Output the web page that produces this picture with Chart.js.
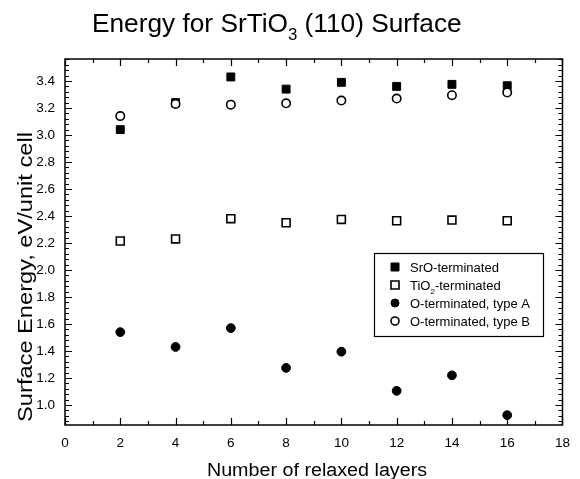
<!DOCTYPE html>
<html>
<head>
<meta charset="utf-8">
<script src="https://cdn.jsdelivr.net/npm/chart.js@4/dist/chart.umd.min.js"></script>
<style>
  html, body { margin: 0; padding: 0; background: #fff; }
  #wrap { width: 580px; height: 479px; }
</style>
</head>
<body>
<div id="wrap"><canvas id="c"></canvas></div>
<script>
// Surface energy (eV per unit cell) versus the number of relaxed layers
const layers = [2, 4, 6, 8, 10, 12, 14, 16];
const srOTerminated  = [3.04, 3.24, 3.43, 3.34, 3.39, 3.36, 3.375, 3.365];
const tiO2Terminated = [2.215, 2.23, 2.38, 2.35, 2.375, 2.365, 2.37, 2.365];
const oTypeA         = [1.54, 1.43, 1.57, 1.275, 1.395, 1.105, 1.22, 0.925];
const oTypeB         = [3.14, 3.23, 3.225, 3.235, 3.255, 3.27, 3.295, 3.315];

const xTickValues = [0, 2, 4, 6, 8, 10, 12, 14, 16, 18];
const yTickValues = [1.0, 1.2, 1.4, 1.6, 1.8, 2.0, 2.2, 2.4, 2.6, 2.8, 3.0, 3.2, 3.4];

// "_n" marks a subscript
const seriesLabels = ['SrO-terminated', 'TiO_2-terminated', 'O-terminated, type A', 'O-terminated, type B'];
const chartTitle = 'Energy for SrTiO_3 (110) Surface';
const xTitle = 'Number of relaxed layers';
const yTitle = 'Surface Energy, eV/unit cell';

const FONT = '"Liberation Sans", Arial, Helvetica, sans-serif';

function toPoints(values) {
  return layers.map((l, i) => ({ x: l, y: values[i] }));
}

// Draws text where "_digits" become a lowered, smaller subscript
function drawRich(ctx, text, x, y, size) {
  const parts = text.split(/(_\d+)/).filter(s => s.length);
  let cx = x;
  for (const p of parts) {
    if (p[0] === '_') {
      const s = Math.round(size * 0.62);
      ctx.font = s + 'px ' + FONT;
      ctx.fillText(p.slice(1), cx, y + size * 0.33);
      cx += ctx.measureText(p.slice(1)).width;
    } else {
      ctx.font = size + 'px ' + FONT;
      ctx.fillText(p, cx, y);
      cx += ctx.measureText(p).width;
    }
  }
  return cx - x;
}

// Text drawn slightly widened along its baseline, centred on (x, y)
function drawWide(ctx, text, x, y, size, stretch, angle) {
  ctx.save();
  ctx.translate(x, y);
  ctx.rotate(angle || 0);
  ctx.scale(stretch, 1);
  ctx.font = size + 'px ' + FONT;
  ctx.textAlign = 'center';
  ctx.fillText(text, 0, 0);
  ctx.restore();
}

const datasets = [
  { label: seriesLabels[0], data: toPoints(srOTerminated), pointStyle: 'rect',
    pointRadius: 5.6, backgroundColor: '#000', borderColor: '#000', borderWidth: 1, order: 3 },
  { label: seriesLabels[1], data: toPoints(tiO2Terminated), pointStyle: 'rect',
    pointRadius: 5.6, backgroundColor: '#fff', borderColor: '#000', borderWidth: 1.6, order: 2 },
  { label: seriesLabels[2], data: toPoints(oTypeA), pointStyle: 'circle',
    pointRadius: 4.4, backgroundColor: '#000', borderColor: '#000', borderWidth: 1, order: 1 },
  { label: seriesLabels[3], data: toPoints(oTypeB), pointStyle: 'circle',
    pointRadius: 4.2, backgroundColor: '#fff', borderColor: '#000', borderWidth: 1.6, order: 0 }
];

// Frame with inward major/minor ticks on all four sides, titles and legend
const framePlugin = {
  id: 'frame',
  beforeDatasetsDraw(chart) {
    const { ctx, chartArea: a, scales: { x, y } } = chart;
    ctx.save();
    ctx.strokeStyle = '#000';
    ctx.lineWidth = 1.2;
    ctx.beginPath();
    for (let v = Math.ceil(x.min); v <= x.max + 1e-9; v += 1) {
      const px = Math.round(x.getPixelForValue(v)) + 0.5;
      const len = (v % 2 === 0) ? 7 : 4;
      ctx.moveTo(px, a.bottom); ctx.lineTo(px, a.bottom - len);
      ctx.moveTo(px, a.top); ctx.lineTo(px, a.top + len);
    }
    const start = Math.ceil(y.min / 0.04 - 1e-6);
    for (let k = start; k * 0.04 <= y.max + 1e-9; k++) {
      const v = k * 0.04;
      const py = Math.round(y.getPixelForValue(v)) + 0.5;
      const major = (k % 5 === 0);
      const len = major ? 7 : 4;
      ctx.moveTo(a.left, py); ctx.lineTo(a.left + len, py);
      ctx.moveTo(a.right, py); ctx.lineTo(a.right - len, py);
    }
    ctx.stroke();
    ctx.lineWidth = 1.5;
    ctx.strokeRect(a.left, a.top, a.right - a.left, a.bottom - a.top);
    ctx.restore();
  },
  afterDraw(chart) {
    const { ctx } = chart;
    ctx.save();
    ctx.fillStyle = '#000';
    ctx.textBaseline = 'alphabetic';
    ctx.textAlign = 'left';
    // chart title, widened a little
    ctx.save();
    ctx.translate(92, 32);
    ctx.scale(1.05, 1);
    drawRich(ctx, chartTitle, 0, 0, 25);
    ctx.restore();
    // axis titles
    drawWide(ctx, xTitle, 317, 476, 18, 1.095, 0);
    drawWide(ctx, yTitle, 32, 277, 21, 1.125, -Math.PI / 2);

    // legend box
    ctx.textAlign = 'left';
    ctx.fillStyle = '#fff';
    ctx.fillRect(374, 253, 169, 83);
    ctx.strokeStyle = '#000';
    ctx.lineWidth = 1.2;
    ctx.strokeRect(374.5, 253.5, 169, 83);
    const rows = [267, 285, 303, 321];
    chart.data.datasets.forEach((ds, i) => {
      const cy = rows[i];
      const cx = 395;
      ctx.beginPath();
      if (ds.pointStyle === 'rect') {
        const h = 4;
        ctx.rect(cx - h, cy - h, 2 * h, 2 * h);
      } else {
        ctx.arc(cx, cy, 4, 0, Math.PI * 2);
      }
      ctx.fillStyle = ds.backgroundColor;
      ctx.fill();
      ctx.lineWidth = ds.borderWidth;
      ctx.strokeStyle = ds.borderColor;
      ctx.stroke();
      ctx.fillStyle = '#000';
      drawRich(ctx, ds.label, 410, cy + 4.5, 13);
    });
    ctx.restore();
  }
};

new Chart(document.getElementById('c'), {
  type: 'scatter',
  data: { datasets },
  options: {
    responsive: true,
    maintainAspectRatio: false,
    animation: false,
    layout: { padding: { top: 59, right: 10, left: 0, bottom: 0 } },
    plugins: { legend: { display: false }, tooltip: { enabled: false }, title: { display: false } },
    scales: {
      x: {
        type: 'linear', min: 0, max: 18,
        grid: { display: false, drawTicks: false },
        border: { display: false },
        afterBuildTicks: s => { s.ticks = xTickValues.map(v => ({ value: v })); },
        afterFit: s => { s.height = 54; },
        ticks: { color: '#000', padding: 10, font: { family: FONT, size: 13.5 }, maxRotation: 0,
                 callback: v => String(v) }
      },
      y: {
        type: 'linear', min: 0.852, max: 3.563,
        grid: { display: false, drawTicks: false },
        border: { display: false },
        afterBuildTicks: s => { s.ticks = yTickValues.map(v => ({ value: v })); },
        afterFit: s => { s.width = 65; },
        ticks: { color: '#000', padding: 10, font: { family: FONT, size: 13.5 },
                 callback: v => Number(v).toFixed(1) }
      }
    }
  },
  plugins: [framePlugin]
});
</script>
</body>
</html>
